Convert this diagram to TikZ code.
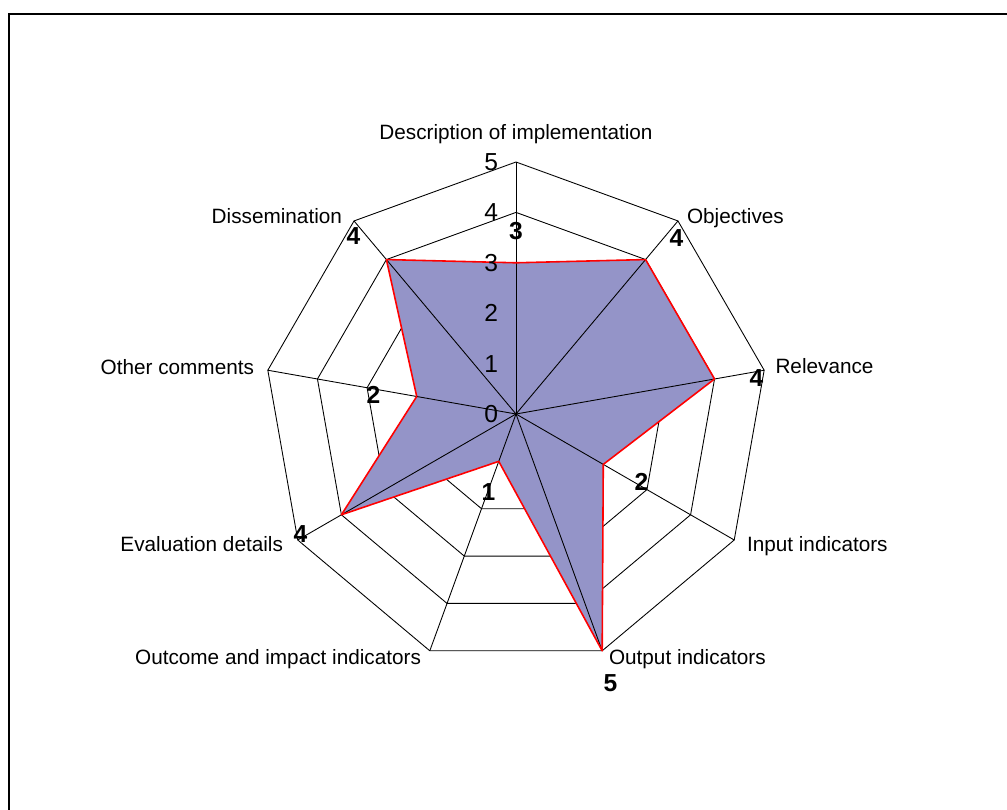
\documentclass[tikz,border=0pt]{standalone}
\usepackage{fontspec}
\setmainfont{Liberation Sans}
\usetikzlibrary{positioning,calc}
\definecolor{radarfill}{RGB}{148,148,200}
\begin{document}
\begin{tikzpicture}[semithick,
 grid/.style={black, line width=0.5pt},
 catlabel/.style={inner sep=0pt, font=\fontsize{11.8}{14}\selectfont},
 ticklabel/.style={inner sep=0pt, anchor=east, font=\fontsize{14}{16}\selectfont},
 vallabel/.style={inner sep=0pt, font=\fontsize{14}{16}\selectfont\bfseries}]
\useasboundingbox (-10.32,-7.92) rectangle (9.82,8.28);
% frame
\draw[line width=1.2pt] (-10.14,-8.5) -- (-10.14,8.0) -- (10.5,8.0);
\coordinate (c) at (0,0);
\foreach \i in {1,...,9} \coordinate (o\i) at ({130-40*\i}:5.04);
\foreach \i/\v in {1/3,2/4,3/4,4/2,5/5,6/1,7/4,8/2,9/4}
 \coordinate (p\i) at ({130-40*\i}:\v*1.008);
% rings
\foreach \r in {1,...,5}
 \draw[grid] (90:\r*1.008) \foreach \i in {1,...,8} { -- ({90-40*\i}:\r*1.008) } -- cycle;
% data
\fill[radarfill] (p1) -- (p2) -- (p3) -- (p4) -- (p5) -- (p6) -- (p7) -- (p8) -- (p9) -- cycle;
\foreach \i in {1,...,9} \draw[grid] (c) -- (o\i);
\draw[red, line width=0.9pt, line join=round] (p1) -- (p2) -- (p3) -- (p4) -- (p5) -- (p6) -- (p7) -- (p8) -- (p9) -- cycle;
% scale
\foreach \k in {0,...,5} \node[ticklabel] (t\k) at (-0.35,\k*1.008) {\k};
% categories
\node[catlabel, anchor=base] (desc) at (0,5.48) {Description of implementation};
\node[catlabel, anchor=base west] (obj) at (3.41,3.81) {Objectives};
\node[catlabel, anchor=base west] (rel) at (5.18,0.80) {Relevance};
\node[catlabel, anchor=base west] (inp) at (4.61,-2.75) {Input indicators};
\node[catlabel, anchor=base west] (outp) at (1.85,-5.01) {Output indicators};
\node[catlabel, anchor=base east] (outc) at (-1.89,-5.02) {Outcome and impact indicators};
\node[catlabel, anchor=base east] (eval) at (-4.65,-2.75) {Evaluation details};
\node[catlabel, anchor=base east] (oth) at (-5.23,0.79) {Other comments};
\node[catlabel, anchor=base east] (diss) at (-3.47,3.81) {Dissemination};
% values
\node[vallabel] (v1) at (0,3.65) {3};
\node[vallabel] (v2) at (3.21,3.51) {4};
\node[vallabel] (v3) at (4.81,0.71) {4};
\node[vallabel] (v4) at (2.51,-1.35) {2};
\node[vallabel] (v5) at (1.89,-5.39) {5};
\node[vallabel] (v6) at (-0.55,-1.57) {1};
\node[vallabel] (v7) at (-4.31,-2.40) {4};
\node[vallabel] (v8) at (-2.85,0.38) {2};
\node[vallabel] (v9) at (-3.25,3.55) {4};
\end{tikzpicture}
\end{document}
